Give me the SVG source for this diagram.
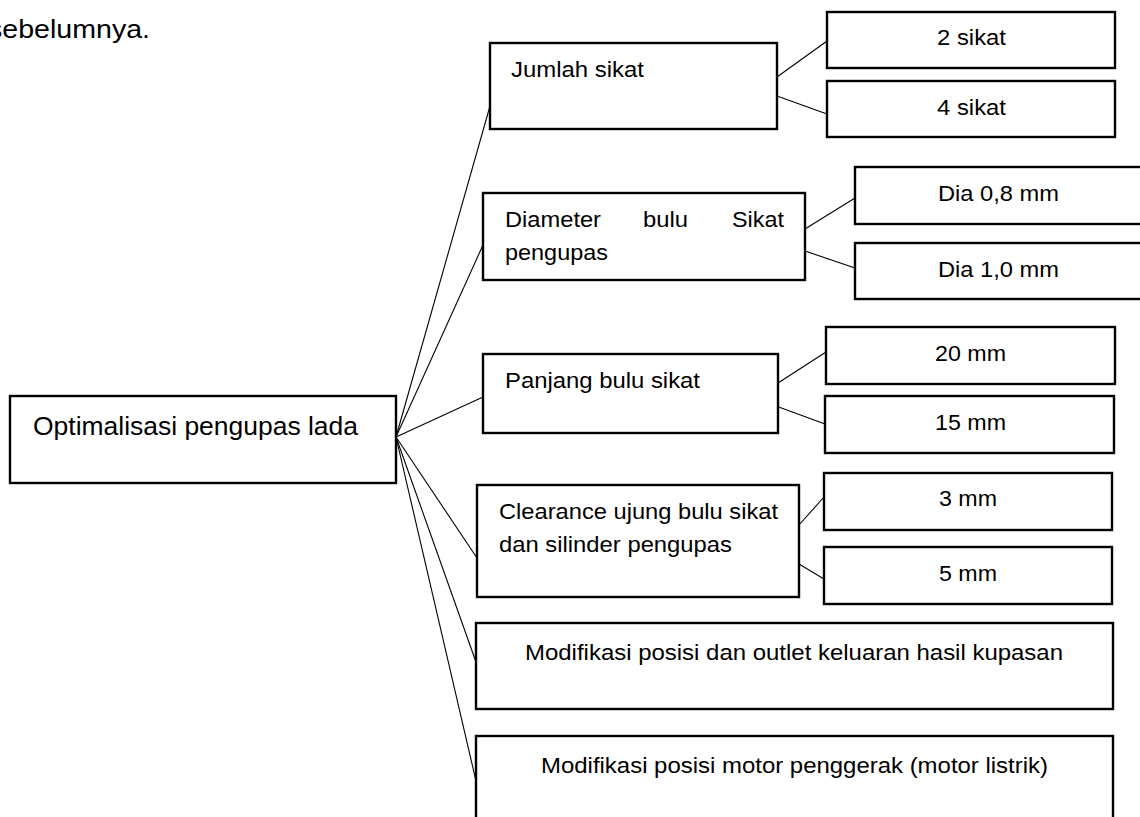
<svg xmlns="http://www.w3.org/2000/svg" width="1140" height="817" viewBox="0 0 1140 817">
<style>
rect.box{fill:#fff;stroke:#000;stroke-width:2.4}
.conn line{stroke:#000;stroke-width:1.1}
text{font-family:"Liberation Sans",Arial,sans-serif;font-size:22px;fill:#000}
text.big{font-size:25px}
</style>
<rect width="1140" height="817" fill="#fff"/>
<text class="big" x="-12" y="38" textLength="162" lengthAdjust="spacingAndGlyphs">sebelumnya.</text>
<g class="conn" id="connectors">
<line x1="396" y1="437" x2="490" y2="106"/>
<line x1="396" y1="437" x2="483" y2="245"/>
<line x1="396" y1="437" x2="483" y2="397"/>
<line x1="396" y1="437" x2="477" y2="558"/>
<line x1="396" y1="437" x2="476" y2="662"/>
<line x1="396" y1="437" x2="476" y2="781"/>
<line x1="777" y1="77" x2="827" y2="41"/>
<line x1="777" y1="96" x2="827" y2="114"/>
<line x1="805" y1="229" x2="855" y2="198"/>
<line x1="805" y1="251" x2="855" y2="268"/>
<line x1="778" y1="383" x2="826" y2="352"/>
<line x1="776" y1="406" x2="825" y2="424"/>
<line x1="799" y1="525" x2="824" y2="497"/>
<line x1="799" y1="564" x2="824" y2="579"/>
</g>
<g id="root"><rect class="box" x="10" y="396" width="386" height="87"/><text class="big" x="33" y="435" textLength="325" lengthAdjust="spacingAndGlyphs">Optimalisasi pengupas lada</text></g>
<g id="jumlah"><rect class="box" x="490" y="43" width="287" height="86"/><text x="511" y="77" textLength="133" lengthAdjust="spacingAndGlyphs">Jumlah sikat</text></g>
<g id="s2"><rect class="box" x="827" y="12" width="288" height="56"/><text x="937" y="45" textLength="69" lengthAdjust="spacingAndGlyphs">2 sikat</text></g>
<g id="s4"><rect class="box" x="827" y="81" width="288" height="56"/><text x="937" y="115" textLength="69" lengthAdjust="spacingAndGlyphs">4 sikat</text></g>
<g id="diameter"><rect class="box" x="483" y="193" width="322" height="87"/><text y="227"><tspan x="505" textLength="96" lengthAdjust="spacingAndGlyphs">Diameter</tspan><tspan x="643" textLength="45" lengthAdjust="spacingAndGlyphs">bulu</tspan><tspan x="732" textLength="52" lengthAdjust="spacingAndGlyphs">Sikat</tspan></text><text x="505" y="260" textLength="103" lengthAdjust="spacingAndGlyphs">pengupas</text></g>
<g id="dia08"><rect class="box" x="855" y="167" width="287" height="57"/><text x="938" y="201" textLength="121" lengthAdjust="spacingAndGlyphs">Dia 0,8 mm</text></g>
<g id="dia10"><rect class="box" x="855" y="243" width="287" height="56"/><text x="938" y="277" textLength="121" lengthAdjust="spacingAndGlyphs">Dia 1,0 mm</text></g>
<g id="panjang"><rect class="box" x="483" y="354" width="295" height="79"/><text x="505" y="388" textLength="195" lengthAdjust="spacingAndGlyphs">Panjang bulu sikat</text></g>
<g id="mm20"><rect class="box" x="826" y="327" width="289" height="57"/><text x="935" y="361" textLength="71" lengthAdjust="spacingAndGlyphs">20 mm</text></g>
<g id="mm15"><rect class="box" x="825" y="396" width="289" height="57"/><text x="935" y="430" textLength="71" lengthAdjust="spacingAndGlyphs">15 mm</text></g>
<g id="clearance"><rect class="box" x="477" y="485" width="322" height="112"/><text x="499" y="519" textLength="279" lengthAdjust="spacingAndGlyphs">Clearance ujung bulu sikat</text><text x="499" y="552" textLength="233" lengthAdjust="spacingAndGlyphs">dan silinder pengupas</text></g>
<g id="mm3"><rect class="box" x="824" y="473" width="288" height="57"/><text x="939" y="506" textLength="58" lengthAdjust="spacingAndGlyphs">3 mm</text></g>
<g id="mm5"><rect class="box" x="824" y="547" width="288" height="57"/><text x="939" y="581" textLength="58" lengthAdjust="spacingAndGlyphs">5 mm</text></g>
<g id="mod1"><rect class="box" x="476" y="623" width="637" height="86"/><text x="525" y="660" textLength="538" lengthAdjust="spacingAndGlyphs">Modifikasi posisi dan outlet keluaran hasil kupasan</text></g>
<g id="mod2"><rect class="box" x="476" y="736" width="637" height="100"/><text x="541" y="773" textLength="507" lengthAdjust="spacingAndGlyphs">Modifikasi posisi motor penggerak (motor listrik)</text></g>
</svg>
